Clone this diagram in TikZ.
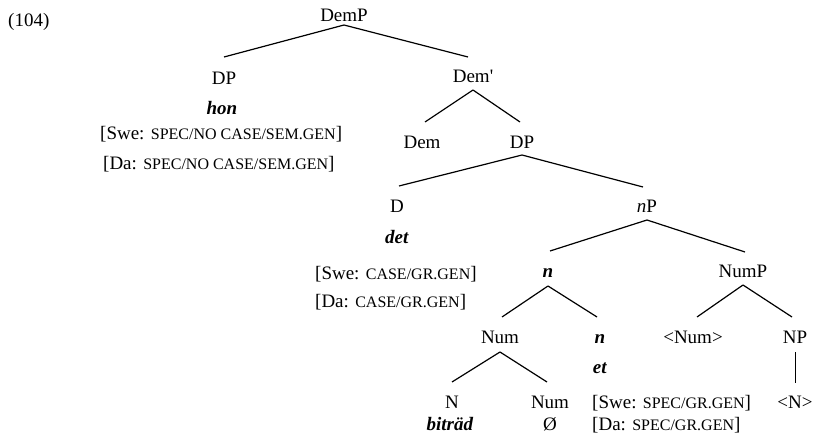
\documentclass[tikz,border=0pt]{standalone}
\usepackage{fontspec}
\setmainfont{Liberation Serif}
\newcommand\smc[1]{{\fontsize{16}{18}\selectfont #1}}
\begin{document}
\begin{tikzpicture}[x=1pt,y=-1pt,
  lab/.style={anchor=base, inner sep=0pt, font=\fontsize{19}{22}\selectfont},
  labw/.style={lab, anchor=base west},
  br/.style={line width=1.2pt}]
\useasboundingbox (0,0) rectangle (814,446);
\node[labw] (ex) at (8,27) {(104)};
\node[lab] (demp) at (344,22) {DemP};
\node[lab] (dpa) at (224,85) {DP};
\node[lab] (hon) at (222,115) {\textbf{\textit{hon}}};
\node[labw] (swea) at (100,140) {[Swe: \smc{SPEC/NO CASE/SEM.GEN}]};
\node[labw] (daa) at (103,170) {[Da: \smc{SPEC/NO CASE/SEM.GEN}]};
\node[lab] (demb) at (473,83) {Dem\textquotesingle};
\node[lab] (dem) at (422,149) {Dem};
\node[lab] (dpb) at (522,149) {DP};
\node[lab] (d) at (397,213) {D};
\node[lab] (det) at (397,244) {\textbf{\textit{det}}};
\node[labw] (sweb) at (315,280) {[Swe: \smc{CASE/GR.GEN}]};
\node[labw] (dab) at (315,308) {[Da: \smc{CASE/GR.GEN}]};
\node[lab] (np) at (647,213) {\textit{n}P};
\node[lab] (nn) at (548,278) {\textbf{\textit{n}}};
\node[lab] (nump) at (743,278) {NumP};
\node[lab] (num) at (500,344) {Num};
\node[lab] (nnb) at (600,344) {\textbf{\textit{n}}};
\node[lab] (numt) at (693,344) {\textless Num\textgreater};
\node[lab] (npp) at (795,344) {NP};
\node[lab] (et) at (600,373) {\textbf{\textit{et}}};
\node[lab] (nN) at (452,408) {N};
\node[lab] (numb) at (550,408) {Num};
\node[labw] (swec) at (592,408) {[Swe: \smc{SPEC/GR.GEN}]};
\node[lab] (nt) at (795,408) {\textless N\textgreater};
\node[lab] (bit) at (450,430) {\textbf{\textit{biträd}}};
\node[lab] (empt) at (550,430) {Ø};
\node[labw] (dac) at (592,430) {[Da: \smc{SPEC/GR.GEN}]};
% connectors
\draw[br] ([yshift=-3pt]demp.base) -- ([yshift=28pt]dpa.base);
\draw[br] ([yshift=-3pt]demp.base) -- ([xshift=-5pt,yshift=26pt]demb.base);
\draw[br] ([yshift=-7pt]demb.base) -- ([xshift=3pt,yshift=27pt]dem.base);
\draw[br] ([yshift=-7pt]demb.base) -- ([xshift=-2pt,yshift=27pt]dpb.base);
\draw[br] ([yshift=-6pt]dpb.base) -- ([xshift=2pt,yshift=27pt]d.base);
\draw[br] ([yshift=-6pt]dpb.base) -- ([xshift=-4pt,yshift=26pt]np.base);
\draw[br] ([yshift=-7pt]np.base) -- ([xshift=2pt,yshift=27pt]nn.base);
\draw[br] ([yshift=-7pt]np.base) -- ([xshift=2pt,yshift=26pt]nump.base);
\draw[br] ([yshift=-8pt]nn.base) -- ([xshift=2pt,yshift=27pt]num.base);
\draw[br] ([yshift=-8pt]nn.base) -- ([xshift=-3pt,yshift=27pt]nnb.base);
\draw[br] ([yshift=-7pt]nump.base) -- ([xshift=4pt,yshift=27pt]numt.base);
\draw[br] ([yshift=-7pt]nump.base) -- ([xshift=-3pt,yshift=27pt]npp.base);
\draw[br] ([yshift=-8pt]num.base) -- ([yshift=26pt]nN.base);
\draw[br] ([yshift=-8pt]num.base) -- ([xshift=-3pt,yshift=26pt]numb.base);
\draw[br] ([xshift=0.4pt,yshift=-8pt]npp.base) -- ([xshift=0.4pt,yshift=25pt]nt.base);
\end{tikzpicture}
\end{document}
